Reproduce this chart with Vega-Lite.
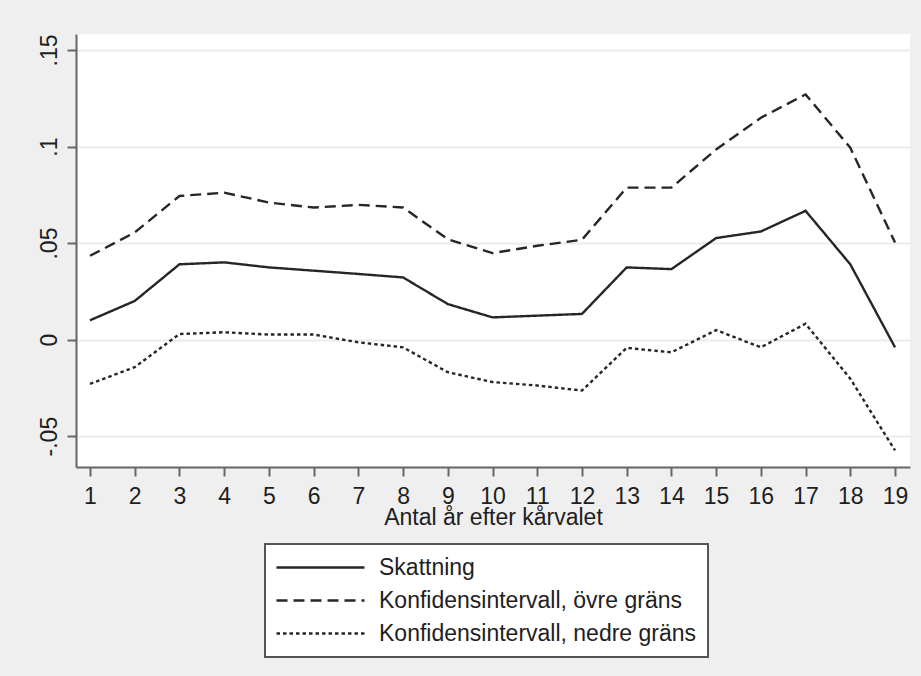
{
  "$schema": "https://vega.github.io/schema/vega-lite/v6.json",
  "width": 834,
  "height": 433,
  "autosize": "none",
  "padding": {"left": 76, "top": 34, "right": 11, "bottom": 209},
  "background": "#efefef",
  "config": {
    "view": {"fill": "white", "stroke": null},
    "font": "Liberation Sans",
    "axis": {
      "domainColor": "#666666",
      "domainWidth": 2,
      "tickColor": "#666666",
      "tickWidth": 2,
      "tickSize": 9,
      "labelColor": "#1e1e1e",
      "labelFontSize": 23,
      "titleColor": "#1e1e1e",
      "titleFontSize": 23,
      "titleFontWeight": "normal",
      "gridColor": "#ebebeb",
      "gridWidth": 2
    },
    "legend": {
      "orient": "none",
      "legendX": 189,
      "legendY": 510,
      "direction": "vertical",
      "padding": 11,
      "strokeColor": "#555555",
      "strokeWidth": 2,
      "fillColor": "white",
      "symbolType": "M-4,0H4",
      "symbolSize": 484,
      "symbolStrokeWidth": 2.4,
      "symbolStrokeColor": "#262626",
      "symbolOffset": 32,
      "labelOffset": 46,
      "labelFontSize": 23,
      "labelColor": "#1e1e1e",
      "labelLimit": 0,
      "rowPadding": 8
    }
  },
  "data": {
    "values": [
      {"x": 1, "serie": "Skattning", "value": 0.010},
      {"x": 2, "serie": "Skattning", "value": 0.020},
      {"x": 3, "serie": "Skattning", "value": 0.039},
      {"x": 4, "serie": "Skattning", "value": 0.040},
      {"x": 5, "serie": "Skattning", "value": 0.0374},
      {"x": 6, "serie": "Skattning", "value": 0.0357},
      {"x": 7, "serie": "Skattning", "value": 0.034},
      {"x": 8, "serie": "Skattning", "value": 0.0322},
      {"x": 9, "serie": "Skattning", "value": 0.0184},
      {"x": 10, "serie": "Skattning", "value": 0.0115},
      {"x": 11, "serie": "Skattning", "value": 0.0124},
      {"x": 12, "serie": "Skattning", "value": 0.0133},
      {"x": 13, "serie": "Skattning", "value": 0.0374},
      {"x": 14, "serie": "Skattning", "value": 0.0365},
      {"x": 15, "serie": "Skattning", "value": 0.0526},
      {"x": 16, "serie": "Skattning", "value": 0.056},
      {"x": 17, "serie": "Skattning", "value": 0.0667},
      {"x": 18, "serie": "Skattning", "value": 0.039},
      {"x": 19, "serie": "Skattning", "value": -0.004},
      {"x": 1, "serie": "Konfidensintervall, övre gräns", "value": 0.0434},
      {"x": 2, "serie": "Konfidensintervall, övre gräns", "value": 0.0555},
      {"x": 3, "serie": "Konfidensintervall, övre gräns", "value": 0.0744},
      {"x": 4, "serie": "Konfidensintervall, övre gräns", "value": 0.0761},
      {"x": 5, "serie": "Konfidensintervall, övre gräns", "value": 0.071},
      {"x": 6, "serie": "Konfidensintervall, övre gräns", "value": 0.0684},
      {"x": 7, "serie": "Konfidensintervall, övre gräns", "value": 0.0698},
      {"x": 8, "serie": "Konfidensintervall, övre gräns", "value": 0.0684},
      {"x": 9, "serie": "Konfidensintervall, övre gräns", "value": 0.052},
      {"x": 10, "serie": "Konfidensintervall, övre gräns", "value": 0.0448},
      {"x": 11, "serie": "Konfidensintervall, övre gräns", "value": 0.0486},
      {"x": 12, "serie": "Konfidensintervall, övre gräns", "value": 0.0517},
      {"x": 13, "serie": "Konfidensintervall, övre gräns", "value": 0.0787},
      {"x": 14, "serie": "Konfidensintervall, övre gräns", "value": 0.0787},
      {"x": 15, "serie": "Konfidensintervall, övre gräns", "value": 0.0985},
      {"x": 16, "serie": "Konfidensintervall, övre gräns", "value": 0.1149},
      {"x": 17, "serie": "Konfidensintervall, övre gräns", "value": 0.127},
      {"x": 18, "serie": "Konfidensintervall, övre gräns", "value": 0.0994},
      {"x": 19, "serie": "Konfidensintervall, övre gräns", "value": 0.0503},
      {"x": 1, "serie": "Konfidensintervall, nedre gräns", "value": -0.0229},
      {"x": 2, "serie": "Konfidensintervall, nedre gräns", "value": -0.0143},
      {"x": 3, "serie": "Konfidensintervall, nedre gräns", "value": 0.0029},
      {"x": 4, "serie": "Konfidensintervall, nedre gräns", "value": 0.0038},
      {"x": 5, "serie": "Konfidensintervall, nedre gräns", "value": 0.0026},
      {"x": 6, "serie": "Konfidensintervall, nedre gräns", "value": 0.0026},
      {"x": 7, "serie": "Konfidensintervall, nedre gräns", "value": -0.0014},
      {"x": 8, "serie": "Konfidensintervall, nedre gräns", "value": -0.004},
      {"x": 9, "serie": "Konfidensintervall, nedre gräns", "value": -0.0169},
      {"x": 10, "serie": "Konfidensintervall, nedre gräns", "value": -0.022},
      {"x": 11, "serie": "Konfidensintervall, nedre gräns", "value": -0.0238},
      {"x": 12, "serie": "Konfidensintervall, nedre gräns", "value": -0.0264},
      {"x": 13, "serie": "Konfidensintervall, nedre gräns", "value": -0.0043},
      {"x": 14, "serie": "Konfidensintervall, nedre gräns", "value": -0.0066},
      {"x": 15, "serie": "Konfidensintervall, nedre gräns", "value": 0.0049},
      {"x": 16, "serie": "Konfidensintervall, nedre gräns", "value": -0.004},
      {"x": 17, "serie": "Konfidensintervall, nedre gräns", "value": 0.0082},
      {"x": 18, "serie": "Konfidensintervall, nedre gräns", "value": -0.0203},
      {"x": 19, "serie": "Konfidensintervall, nedre gräns", "value": -0.0574}
    ]
  },
  "mark": {"type": "line", "color": "#262626", "strokeWidth": 2.4},
  "encoding": {
    "x": {
      "field": "x",
      "type": "quantitative",
      "scale": {"domain": [0.687, 19.335], "nice": false, "zero": false},
      "axis": {
        "values": [1,2,3,4,5,6,7,8,9,10,11,12,13,14,15,16,17,18,19],
        "grid": false,
        "title": "Antal år efter kårvalet",
        "labelPadding": 9,
        "titlePadding": -2,
        "labelFlush": false,
        "labelOverlap": false
      }
    },
    "y": {
      "field": "value",
      "type": "quantitative",
      "scale": {"domain": [-0.066, 0.1583], "nice": false, "zero": false},
      "axis": {
        "values": [-0.05, 0, 0.05, 0.1, 0.15],
        "title": null,
        "grid": true,
        "labelAngle": -90,
        "labelAlign": "center",
        "labelBaseline": "bottom",
        "labelPadding": 6,
        "labelFlush": false,
        "labelOverlap": false,
        "labelExpr": "datum.value == 0 ? '0' : (datum.value < 0 ? '-' : '') + replace(format(abs(datum.value), '.2~f'), '0.', '.')"
      }
    },
    "strokeDash": {
      "field": "serie",
      "type": "nominal",
      "sort": ["Skattning", "Konfidensintervall, övre gräns", "Konfidensintervall, nedre gräns"],
      "scale": {
        "domain": ["Skattning", "Konfidensintervall, övre gräns", "Konfidensintervall, nedre gräns"],
        "range": [[1, 0], [11, 6], [3.5, 3]]
      },
      "legend": {"title": null}
    }
  }
}
